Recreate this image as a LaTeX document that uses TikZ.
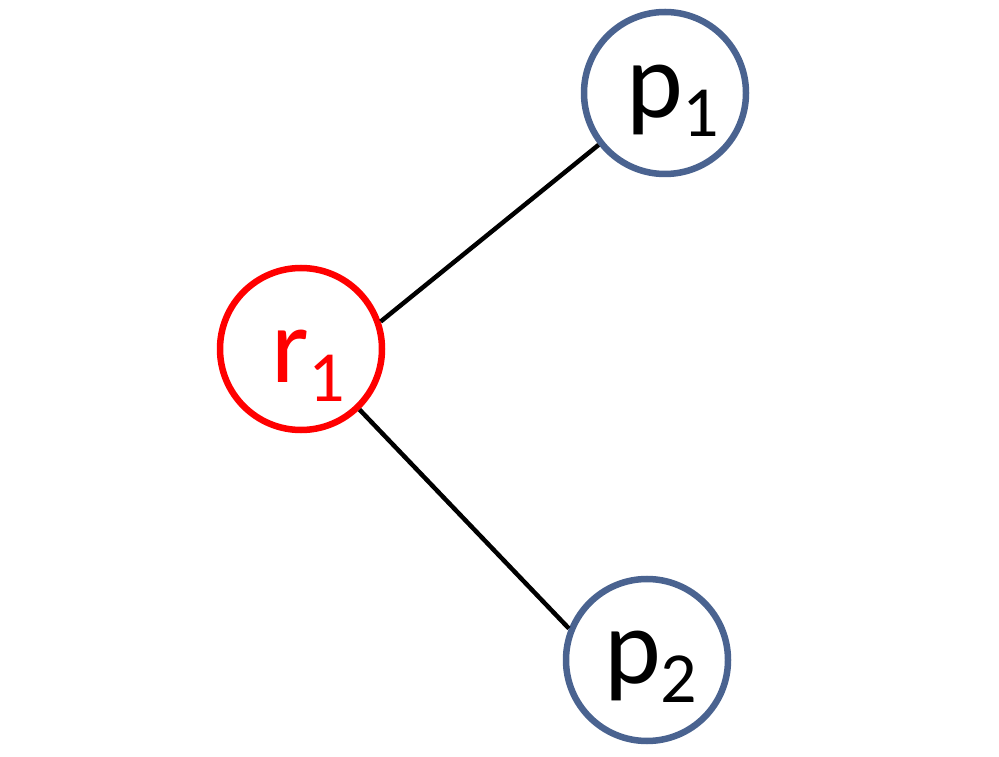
\documentclass[tikz,border=0pt]{standalone}
\usepackage{fontspec}
\setmainfont{Carlito}
\definecolor{nodeblue}{HTML}{4A6390}
\definecolor{nodered}{HTML}{FF0000}
\begin{document}
\begin{tikzpicture}[x=1pt,y=1pt,
  ring/.style={circle,draw,line width=6.5pt,minimum size=162pt,inner sep=0pt},
  lbl/.style={anchor=base west,inner sep=0pt,font=\fontsize{108}{108}\selectfont},
  edge/.style={line width=4.5pt,black}]
\useasboundingbox (0,0) rectangle (999,756);
\node[ring,draw=nodered] (r1) at (301,407) {};
\node[ring,draw=nodeblue] (p1) at (665,663) {};
\node[ring,draw=nodeblue] (p2) at (647,96) {};
\newcommand{\subs}[1]{{\fontsize{72}{72}\selectfont\raisebox{-19pt}{#1}}}
\node[lbl,text=nodered] (r1t) at (271,373) {r\subs{1}};
\node[lbl] (p1t) at (626,638) {p\subs{1}};
\node[lbl] (p2t) at (604,73) {p\subs{2}};
\draw[edge] (r1.19) -- (p1.218);
\draw[edge] (r1.-46) -- (p2.158);
\end{tikzpicture}
\end{document}
